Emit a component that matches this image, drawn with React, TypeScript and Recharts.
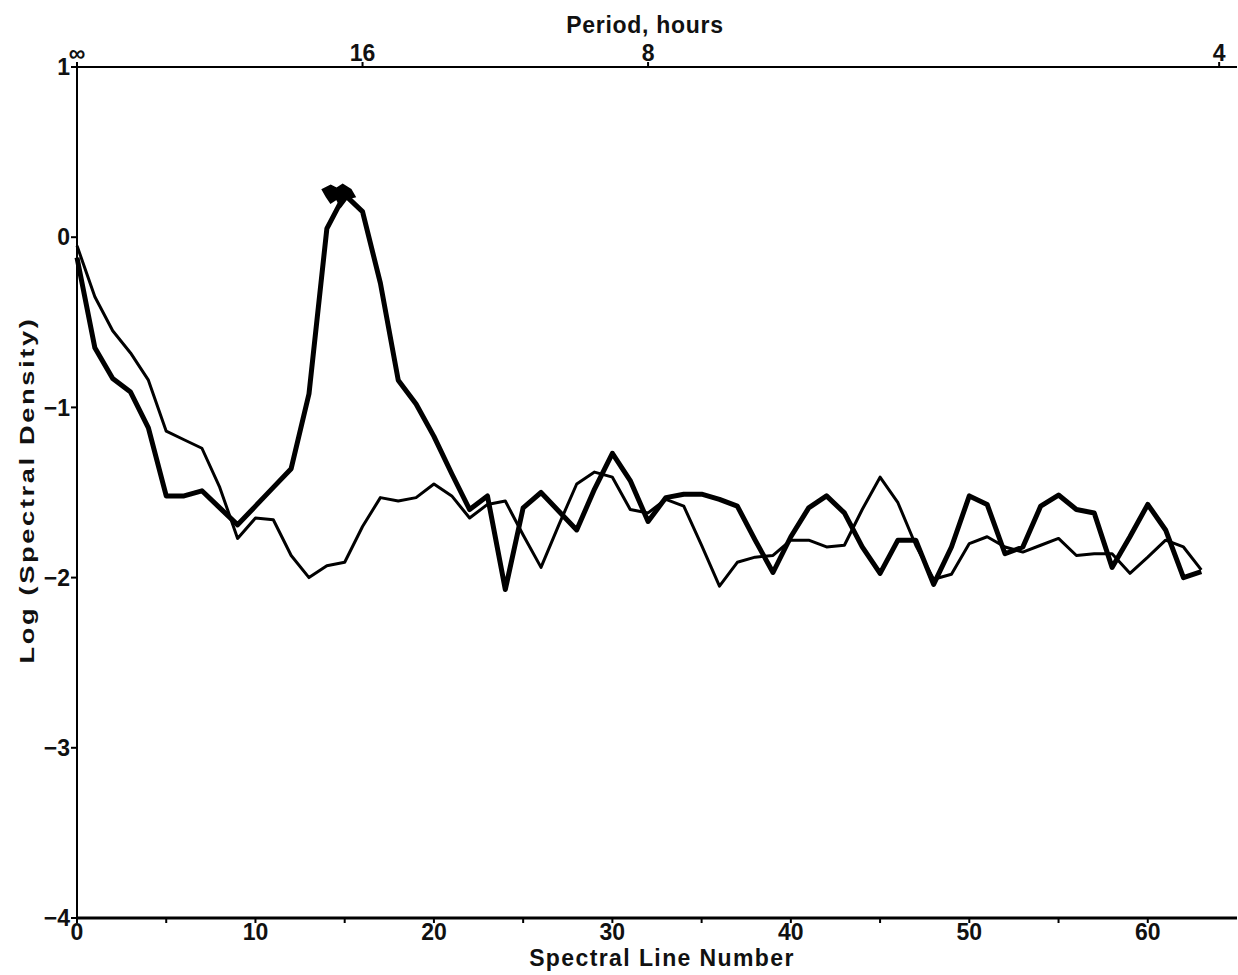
import { LineChart, Line, XAxis, YAxis } from "recharts";

// thick curve (with peak near line 15) and thin curve, log spectral density per spectral line
const thickSeries = [
  -0.12, -0.65, -0.83, -0.91, -1.12, -1.52, -1.52, -1.49, -1.59, -1.69,
  -1.58, -1.47, -1.36, -0.92, 0.05, 0.25, 0.15, -0.27, -0.84, -0.98,
  -1.17, -1.39, -1.6, -1.52, -2.07, -1.59, -1.5, -1.61, -1.72, -1.48,
  -1.27, -1.43, -1.67, -1.53, -1.51, -1.51, -1.54, -1.58, -1.78, -1.97,
  -1.76, -1.59, -1.52, -1.62, -1.82, -1.975, -1.78, -1.78, -2.04, -1.82,
  -1.52, -1.57, -1.86, -1.82, -1.58, -1.515, -1.6, -1.62, -1.94, -1.76,
  -1.57, -1.72, -2.0, -1.965,
];
const thinSeries = [
  -0.05, -0.35, -0.55, -0.68, -0.84, -1.14, -1.19, -1.24, -1.47, -1.77,
  -1.65, -1.66, -1.87, -2.0, -1.93, -1.91, -1.7, -1.53, -1.55, -1.53,
  -1.45, -1.52, -1.65, -1.57, -1.55, -1.75, -1.94, -1.69, -1.45, -1.38,
  -1.41, -1.6, -1.62, -1.54, -1.58, -1.81, -2.05, -1.91, -1.88, -1.87,
  -1.78, -1.78, -1.82, -1.81, -1.6, -1.41, -1.56, -1.81, -2.01, -1.98,
  -1.8, -1.76, -1.82, -1.85, -1.81, -1.77, -1.87, -1.86, -1.86, -1.975,
  -1.88, -1.78, -1.82, -1.955,
];

const lineTicks = [0, 5, 10, 15, 20, 25, 30, 35, 40, 45, 50, 55, 60];
const densityTicks = [-4, -3, -2, -1, 0, 1];
const periodTicks = [0, 16, 32, 64];
const periodLabels = ["∞", "16", "8", "4"];
const PEAK_INDEX = 15;

const data = thickSeries.map((v, i) => ({ n: i, thick: v, thin: thinSeries[i] }));

const FONT = "'Liberation Sans', Arial, sans-serif";
const tickStyle = { fontSize: 23, fontWeight: 700, fill: "#111", fontFamily: FONT };

function PeakDot(props: any) {
  const { cx, cy, index } = props;
  if (index !== PEAK_INDEX || cx == null) return <g key={`d-${index}`} />;
  // ragged blob drawn over the peak
  return (
    <path
      key={`d-${index}`}
      d={`M${cx - 22},${cy - 5} L${cx - 14},${cy - 9} L${cx - 8},${cy - 6} L${cx - 2},${cy - 10} L${cx + 6},${cy - 5} L${cx + 10},${cy + 2} L${cx + 2},${cy + 4} L${cx - 4},${cy + 12} L${cx - 8},${cy + 4} L${cx - 14},${cy + 8} L${cx - 18},${cy + 2} Z`}
      fill="#000"
      stroke="#000"
      strokeWidth={2}
    />
  );
}

const labelStyle = {
  position: "absolute" as const,
  fontFamily: FONT,
  fontWeight: 700,
  fontSize: 23,
  whiteSpace: "nowrap" as const,
  color: "#111",
};

export default function App() {
  return (
    <div style={{ position: "absolute", left: 0, top: 0, width: 1238, height: 975, background: "#fff" }}>
      <LineChart
        width={1238}
        height={975}
        data={data}
        margin={{ top: 37, right: 1, bottom: 17, left: 37 }}
      >
        <XAxis
          xAxisId="bottom"
          dataKey="n"
          type="number"
          domain={[0, 65]}
          ticks={lineTicks}
          tickFormatter={(v: number) => (v % 10 === 0 ? String(v) : "")}
          height={40}
          tick={tickStyle}
          tickSize={5}
          tickMargin={1}
          stroke="#000"
          axisLine={{ stroke: "#000", strokeWidth: 3 }}
          tickLine={{ stroke: "#000", strokeWidth: 2 }}
          interval={0}
        />
        <XAxis
          xAxisId="top"
          orientation="top"
          dataKey="n"
          type="number"
          domain={[0, 65]}
          ticks={periodTicks}
          tickFormatter={(v: number) => periodLabels[periodTicks.indexOf(v)]}
          height={30}
          tick={tickStyle}
          tickSize={5}
          tickMargin={1}
          axisLine={{ stroke: "#000", strokeWidth: 2 }}
          tickLine={{ stroke: "#000", strokeWidth: 2 }}
          interval={0}
        />
        <YAxis
          yAxisId="left"
          type="number"
          domain={[-4, 1]}
          ticks={densityTicks}
          tickFormatter={(v: number) => (v < 0 ? `−${Math.abs(v)}` : String(v))}
          width={40}
          tick={tickStyle}
          tickSize={6}
          tickMargin={1}
          axisLine={{ stroke: "#000", strokeWidth: 2 }}
          tickLine={{ stroke: "#000", strokeWidth: 2 }}
          interval={0}
        />
        <YAxis
          yAxisId="right"
          orientation="right"
          type="number"
          domain={[-4, 1]}
          ticks={densityTicks}
          tickFormatter={() => ""}
          width={0}
          mirror
          tickSize={6}
          axisLine={{ stroke: "#000", strokeWidth: 2 }}
          tickLine={{ stroke: "#000", strokeWidth: 2 }}
          interval={0}
        />
        <Line
          xAxisId="bottom"
          yAxisId="left"
          dataKey="thin"
          type="linear"
          stroke="#000"
          strokeWidth={3}
          strokeLinejoin="round"
          dot={false}
          isAnimationActive={false}
        />
        <Line
          xAxisId="bottom"
          yAxisId="left"
          dataKey="thick"
          type="linear"
          stroke="#000"
          strokeWidth={5}
          strokeLinejoin="round"
          dot={PeakDot}
          activeDot={false}
          isAnimationActive={false}
        />
      </LineChart>
      <div style={{ ...labelStyle, left: 645, top: 12, transform: "translateX(-50%)", letterSpacing: 0.7 }}>
        Period, hours
      </div>
      <div style={{ ...labelStyle, left: 662, top: 945, transform: "translateX(-50%)", letterSpacing: 1.4 }}>
        Spectral Line Number
      </div>
      <div
        style={{
          ...labelStyle,
          fontSize: 21,
          left: 27,
          top: 490,
          transform: "translate(-50%, -50%) rotate(-90deg) scale(1.3, 1)",
          letterSpacing: 2,
        }}
      >
        Log (Spectral Density)
      </div>
    </div>
  );
}
